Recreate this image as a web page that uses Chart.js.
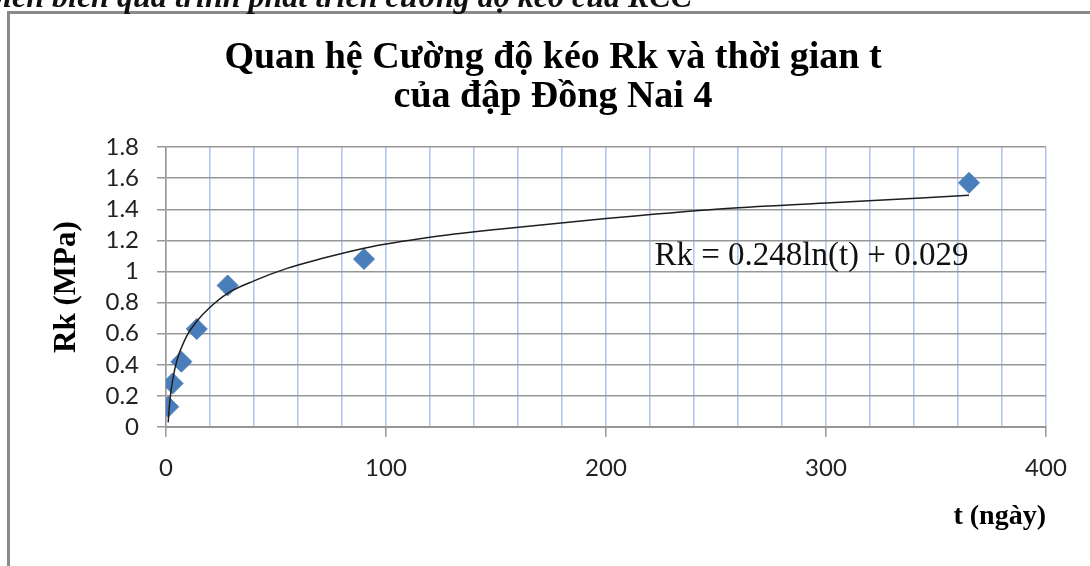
<!DOCTYPE html>
<html lang="vi">
<head>
    <meta charset="UTF-8">
    <title>Quan hệ Cường độ kéo Rk và thời gian t</title>
    <script src="https://cdn.jsdelivr.net/npm/chart.js"></script>
    <style>
        html, body { margin: 0; padding: 0; background: #fff; overflow: hidden; }
        .page { position: relative; width: 1090px; height: 566px; overflow: hidden; }
        .frame { position: absolute; left: 7px; top: 11px; width: 1200px; height: 700px; border: 3px solid #8a8a8a; }
        #rkChart { position: absolute; left: 0; top: 0; }
    </style>
</head>
<body>
<div class="page">
    <div class="frame"></div>
    <canvas id="rkChart" width="1090" height="566"></canvas>
</div>

<script>
    // measured points: age (days) and tensile strength Rk (MPa)
    const ageDays = [1, 3, 7, 14, 28, 90, 365];
    const rkValues = [0.13, 0.28, 0.42, 0.63, 0.91, 1.08, 1.57];

    // log trendline
    const trendDays = [1, 1.5, 2, 3, 5, 7, 10, 14, 20, 28, 40, 55, 70, 90, 120, 150, 200, 250, 300, 365];
    const trendRk = [0.03, 0.13, 0.20, 0.30, 0.43, 0.51, 0.60, 0.68, 0.77, 0.86, 0.94, 1.02, 1.08, 1.15, 1.22, 1.27, 1.34, 1.40, 1.44, 1.49];

    const chartTitle = ['Quan hệ Cường độ kéo Rk và thời gian t', 'của đập Đồng Nai 4'];
    const xAxisTitle = 't (ngày)';
    const yAxisTitle = 'Rk (MPa)';
    const equationText = 'Rk = 0.248ln(t) + 0.029';
    const captionText = 'Diễn biến quá trình phát triển cường độ kéo của RCC';

    const xLabelTicks = [0, 100, 200, 300, 400];

    const GRAY = '#979797';
    const BLUE = '#b3c8ee';
    const MARKER = '#4a7ebb';

    // equation label + the cut-off caption above the frame
    const textPlugin = {
        id: 'extraText',
        afterDatasetsDraw(chart) {
            const { ctx, scales: { x, y } } = chart;
            ctx.save();
            ctx.fillStyle = '#111';
            ctx.font = '33px "Liberation Serif"';
            ctx.textAlign = 'left';
            ctx.textBaseline = 'middle';
            ctx.fillText(equationText, x.getPixelForValue(222), y.getPixelForValue(1.1));

            ctx.font = 'italic bold 32px "Liberation Serif"';
            ctx.textBaseline = 'alphabetic';
            ctx.fillText(captionText, -20, 7);
            ctx.restore();
        }
    };

    const ctx = document.getElementById('rkChart').getContext('2d');
    new Chart(ctx, {
        data: {
            datasets: [
                {
                    type: 'line',
                    label: 'Trend',
                    data: trendDays.map((t, i) => ({ x: t, y: trendRk[i] })),
                    borderColor: '#1e1e1e',
                    borderWidth: 1.5,
                    pointRadius: 0,
                    fill: false,
                    cubicInterpolationMode: 'monotone',
                    order: 0
                },
                {
                    type: 'scatter',
                    label: 'Rk',
                    data: ageDays.map((t, i) => ({ x: t, y: rkValues[i] })),
                    pointStyle: 'rectRot',
                    pointRadius: 10.5,
                    backgroundColor: MARKER,
                    borderColor: MARKER,
                    borderWidth: 1,
                    order: 1
                }
            ]
        },
        options: {
            responsive: false,
            animation: false,
            devicePixelRatio: 1,
            layout: { padding: { left: 60, right: 44, top: 0, bottom: 0 } },
            plugins: {
                legend: { display: false },
                tooltip: { enabled: false },
                title: {
                    display: true,
                    text: chartTitle,
                    color: '#000',
                    font: { family: '"Liberation Serif"', size: 38, weight: 'bold', lineHeight: 1.03 },
                    padding: { top: 38.5, bottom: 30.3 }
                }
            },
            scales: {
                x: {
                    type: 'linear',
                    position: 'bottom',
                    min: 0,
                    max: 400,
                    afterFit(scale) { scale.height = 139; },
                    grid: {
                        color: BLUE,
                        lineWidth: 1.6,
                        tickLength: 10,
                        tickColor: c => xLabelTicks.includes(c.tick && c.tick.value) ? GRAY : 'rgba(0,0,0,0)',
                        tickWidth: 1.5
                    },
                    border: { color: GRAY, width: 2 },
                    ticks: {
                        stepSize: 20,
                        autoSkip: false,
                        maxRotation: 0,
                        padding: 17,
                        color: '#222',
                        font: { family: 'Lato', size: 24 },
                        callback: v => xLabelTicks.includes(v) ? String(v) : ''
                    },
                    title: {
                        display: true,
                        text: xAxisTitle,
                        align: 'end',
                        color: '#000',
                        font: { family: '"Liberation Serif"', size: 28, weight: 'bold' },
                        padding: { top: 0, bottom: 32 }
                    }
                },
                y: {
                    type: 'linear',
                    min: 0,
                    max: 1.8,
                    afterFit(scale) { scale.width = 106; },
                    grid: {
                        color: GRAY,
                        lineWidth: 1.5,
                        tickLength: 9,
                        tickColor: GRAY
                    },
                    border: { color: GRAY, width: 1.5 },
                    ticks: {
                        stepSize: 0.2,
                        autoSkip: false,
                        padding: 18,
                        color: '#222',
                        font: { family: 'Lato', size: 24 },
                        callback: v => String(Math.round(v * 10) / 10)
                    },
                    title: {
                        display: true,
                        text: yAxisTitle,
                        color: '#000',
                        font: { family: '"Liberation Serif"', size: 31, weight: 'bold' },
                        padding: { top: -12, bottom: 0 }
                    }
                }
            }
        },
        plugins: [textPlugin]
    });
</script>
</body>
</html>
